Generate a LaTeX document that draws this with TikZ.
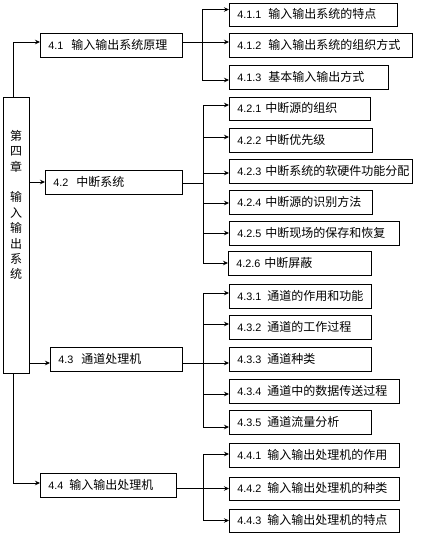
\documentclass[tikz,border=0pt]{standalone}
\usepackage{fontspec}
\setmainfont{Liberation Sans}
\newfontfamily\cjkf{Noto Sans CJK SC}
\usetikzlibrary{arrows.meta}
\newcommand\lbl[3][6pt]{\mbox{{\fontsize{10.8}{12}\selectfont #2}\hspace{#1}{\cjkf\fontsize{12}{14}\selectfont #3}}}
\begin{document}
\begin{tikzpicture}[x=1pt,y=-1pt,
  box/.style={draw, line width=0.8pt, anchor=west, inner xsep=8pt, inner ysep=0pt,
    minimum height=24pt, align=left, text height=10pt, text depth=1.5pt},
  arr/.style={line width=0.8pt, -{Stealth[length=5pt,width=4.5pt]}},
  ln/.style={line width=0.8pt}]
\useasboundingbox (0,0) rectangle (421,536);
% left chapter box
\node[draw, line width=0.8pt, minimum width=26pt, minimum height=276pt, inner sep=0pt] (L) at (16,235) {};
\node[anchor=north, inner sep=0pt, align=center, font=\cjkf\fontsize{12}{15.4}\selectfont] (Lt) at (16,130)
  {第\\四\\章\\[15.4pt]输\\入\\输\\出\\系\\统};
% sections
\node[box, text width=126pt] (s41) at (40,45) {\lbl[8pt]{4.1}{输入输出系统原理}};
\node[box, text width=121pt] (s42) at (45,182) {\lbl[8pt]{4.2}{中断系统}};
\node[box, text width=116pt] (s43) at (50,359) {\lbl[8pt]{4.3}{通道处理机}};
\node[box, text width=120pt] (s44) at (40,485.5) {\lbl[6pt]{4.4}{输入输出处理机}};
% subsections
\node[box, text width=152pt, minimum height=23pt] (b411) at (229,14.5) {\lbl[7pt]{4.1.1}{输入输出系统的特点}};
\node[box, text width=167pt] (b412) at (229,45) {\lbl[7pt]{4.1.2}{输入输出系统的组织方式}};
\node[box, text width=143pt] (b413) at (229,77) {\lbl[7pt]{4.1.3}{基本输入输出方式}};
\node[box, text width=125pt, minimum height=23pt] (b421) at (229,108.5) {\lbl[4pt]{4.2.1}{中断源的组织}};
\node[box, text width=127pt] (b422) at (229,140) {\lbl[4pt]{4.2.2}{中断优先级}};
\node[box, text width=167pt] (b423) at (229,171) {\lbl[4pt]{4.2.3}{中断系统的软硬件功能分配}};
\node[box, text width=127pt] (b424) at (229,202) {\lbl[4pt]{4.2.4}{中断源的识别方法}};
\node[box, text width=154pt] (b425) at (229,233) {\lbl[4pt]{4.2.5}{中断现场的保存和恢复}};
\node[box, text width=127pt] (b426) at (228,263) {\lbl[4pt]{4.2.6}{中断屏蔽}};
\node[box, text width=126pt] (b431) at (229,296) {\lbl{4.3.1}{通道的作用和功能}};
\node[box, text width=126pt] (b432) at (229,327.5) {\lbl{4.3.2}{通道的工作过程}};
\node[box, text width=126pt] (b433) at (229,359) {\lbl{4.3.3}{通道种类}};
\node[box, text width=154pt] (b434) at (229,391) {\lbl{4.3.4}{通道中的数据传送过程}};
\node[box, text width=126pt] (b435) at (229,422) {\lbl{4.3.5}{通道流量分析}};
\node[box, text width=154pt] (b441) at (229,455) {\lbl{4.4.1}{输入输出处理机的作用}};
\node[box, text width=154pt, minimum height=23pt] (b442) at (229,488.5) {\lbl{4.4.2}{输入输出处理机的种类}};
\node[box, text width=154pt, minimum height=23pt] (b443) at (229,520.5) {\lbl{4.4.3}{输入输出处理机的特点}};
% chapter to sections
\draw[arr] ([xshift=-3pt]L.north) |- ([yshift=3pt]s41.west);
\draw[arr] (L.east |- s42.west) -- (s42.west);
\coordinate (a43) at ([yshift=-4pt]s43.west);
\draw[arr] (L.east |- a43) -- (a43);
\draw[arr] ([xshift=-3pt]L.south) |- ([yshift=2.5pt]s44.west);
% junctions
\coordinate (j41) at (202,42);
\coordinate (j42) at (203,183);
\coordinate (j43) at (203,363);
\coordinate (j44) at (203,488);
\draw[ln] ([yshift=3pt]s41.east) -- (j41);
\draw[ln] (s42.east |- j42) -- (j42);
\draw[ln] (s43.east |- j43) -- (j43);
\draw[ln] (s44.east |- j44) -- (j44);
% 4.1 branches
\draw[arr] (j41) |- ([yshift=5pt]b411.west);
\draw[arr] (j41) |- ([yshift=3pt]b412.west);
\draw[arr] (j41) |- ([yshift=-3pt]b413.west);
% 4.2 branches
\draw[arr] (j42) |- ([yshift=3.5pt]b421.west);
\draw[arr] (j42) |- ([yshift=3pt]b422.west);
\draw[arr] (j42) |- ([yshift=-2pt]b423.west);
\draw[arr] (j42) |- ([yshift=-1pt]b424.west);
\draw[arr] (j42) |- (b425.west);
\draw[arr] (j42) |- (b426.west);
% 4.3 branches
\draw[arr] (j43) |- ([yshift=3pt]b431.west);
\draw[arr] (j43) |- ([yshift=3.5pt]b432.west);
\draw[arr] (j43) |- ([yshift=-4pt]b433.west);
\draw[arr] (j43) |- ([yshift=-3pt]b434.west);
\draw[arr] (j43) |- ([yshift=-5pt]b435.west);
% 4.4 branches
\draw[arr] (j44) |- ([yshift=1pt]b441.west);
\draw[arr] (j44) |- (b442.west);
\draw[arr] (j44) |- (b443.west);
\end{tikzpicture}
\end{document}
